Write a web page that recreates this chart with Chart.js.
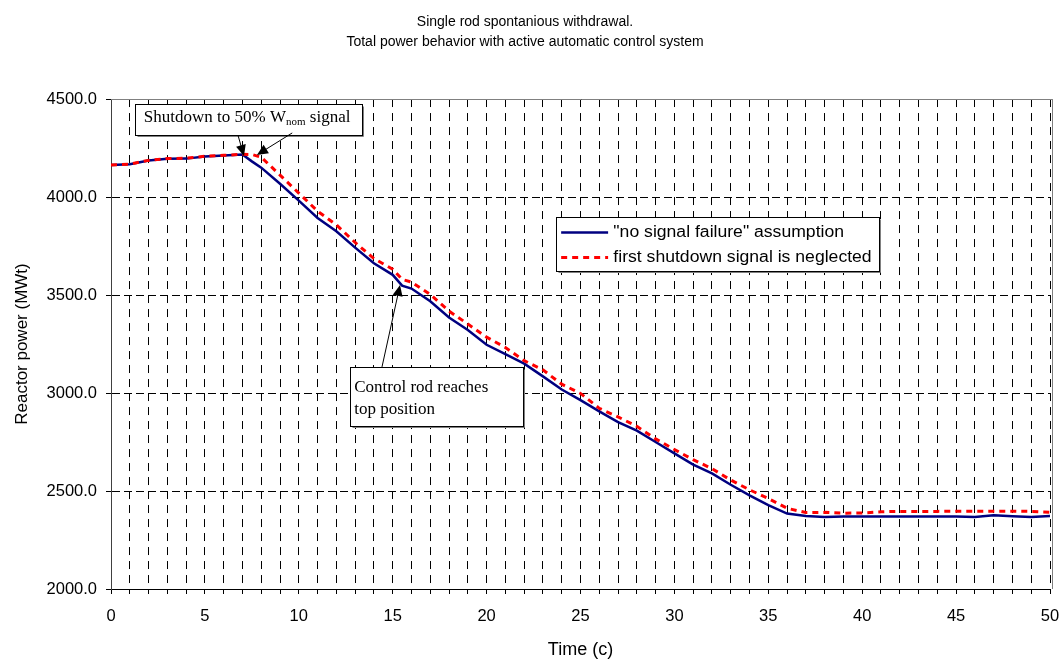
<!DOCTYPE html>
<html><head><meta charset="utf-8">
<script src="https://cdn.jsdelivr.net/npm/chart.js@4.4.0/dist/chart.umd.min.js"></script>
<style>html,body{margin:0;padding:0;background:#fff}</style>
</head><body>
<canvas id="c" width="1063" height="661"></canvas>
<script>
// ---- data ----
const time = [0,1,2,3,4,5,6,7,7.5,8,9,10,11,12,13,14,15,15.5,16,17,18,19,20,21,22,23,24,25,26,27,28,29,30,31,32,33,34,35,36,37,38,39,40,41,42,43,44,45,46,47,48,49,50];
const noFailure = [4163,4167,4186,4195,4196,4207,4212,4217,4182,4150,4068,3982,3893,3825,3742,3662,3603,3548,3533,3468,3385,3322,3246,3198,3150,3085,3018,2964,2906,2852,2808,2750,2692,2635,2590,2532,2478,2428,2385,2372,2368,2370,2370,2370,2370,2370,2370,2370,2367,2376,2371,2367,2372];
const neglected = [4163,4168,4187,4196,4198,4208,4213,4218,4217,4203,4112,4020,3928,3858,3768,3686,3632,3580,3566,3503,3418,3352,3285,3232,3165,3118,3045,2998,2922,2878,2830,2766,2712,2660,2614,2556,2506,2462,2412,2390,2391,2387,2388,2394,2396,2396,2396,2397,2397,2397,2397,2396,2392];
const seriesLabels = ['"no signal failure" assumption', 'first shutdown signal is neglected'];
const titleLines = ['Single rod spontanious withdrawal.', 'Total power behavior with active automatic control system'];
const xTitle = 'Time (c)';
const yTitle = 'Reactor power (MWt)';
const yMin = 2000, yMax = 4500, yStep = 500;
const xMin = 0, xMax = 50, xLabelStep = 5;

// ---- annotation placement (data units) ----
const note1 = {x1:1.28, x2:13.37, y1:4474, y2:4316, textX:1.75, textY:4382};
const arrows = [
  {fromX:6.76, fromY:4316, toX:7.08, toY:4209},
  {fromX:9.65, fromY:4327, toX:7.77, toY:4215},
  {fromX:14.43, fromY:3133, toX:15.39, toY:3551}
];
const note2 = {x1:12.72, x2:21.94, y1:3133, y2:2832, textX:12.95, line1Y:3005, line2Y:2893};
const legendBox = {x1:23.70, x2:40.89, y1:3898, y2:3622, row1Y:3821, row2Y:3694, sampleX1:23.97, sampleX2:26.47, textX:26.75};

const pts = a => a.map((v,i)=>({x:time[i], y:v}));
const SANS = '"Liberation Sans", Arial, sans-serif';
const SERIF = '"Liberation Serif", "Times New Roman", serif';

const overlay = {
  id:'overlay',
  afterDatasetsDraw(chart){
    const {ctx, chartArea:ca, scales:{x,y}} = chart;
    const X = v=>x.getPixelForValue(v), Y = v=>y.getPixelForValue(v);
    ctx.save();
    // frame top & right
    ctx.strokeStyle='#808080'; ctx.lineWidth=1; ctx.setLineDash([]);
    ctx.beginPath();
    ctx.moveTo(ca.left, Math.round(ca.top)+0.5); ctx.lineTo(ca.right+2, Math.round(ca.top)+0.5);
    ctx.moveTo(Math.round(ca.right)+2.5, ca.top); ctx.lineTo(Math.round(ca.right)+2.5, ca.bottom);
    ctx.stroke();

    function box(b){
      const l=Math.round(X(b.x1))+0.5, r=Math.round(X(b.x2))+0.5, t=Math.round(Y(b.y1))+0.5, bt=Math.round(Y(b.y2))+0.5;
      ctx.fillStyle='#fff'; ctx.fillRect(l,t,r-l,bt-t);
      ctx.strokeStyle='#808080'; ctx.lineWidth=1;
      ctx.beginPath(); ctx.moveTo(l+2,bt+1); ctx.lineTo(r+1,bt+1); ctx.lineTo(r+1,t+2); ctx.stroke();
      ctx.strokeStyle='#000'; ctx.strokeRect(l,t,r-l,bt-t);
    }
    function arrow(a){
      const x0=X(a.fromX), y0=Y(a.fromY), x1=X(a.toX), y1=Y(a.toY);
      const ang=Math.atan2(y1-y0,x1-x0), L=11, W=5;
      ctx.strokeStyle='#000'; ctx.lineWidth=1;
      ctx.beginPath(); ctx.moveTo(x0,y0); ctx.lineTo(x1-Math.cos(ang)*L*0.8, y1-Math.sin(ang)*L*0.8); ctx.stroke();
      ctx.fillStyle='#000'; ctx.beginPath();
      ctx.moveTo(x1,y1);
      ctx.lineTo(x1-Math.cos(ang)*L - Math.sin(ang)*W, y1-Math.sin(ang)*L + Math.cos(ang)*W);
      ctx.lineTo(x1-Math.cos(ang)*L + Math.sin(ang)*W, y1-Math.sin(ang)*L - Math.cos(ang)*W);
      ctx.closePath(); ctx.fill();
    }
    // note 1
    box(note1);
    ctx.fillStyle='#000'; ctx.textBaseline='alphabetic'; ctx.textAlign='left';
    let tx=X(note1.textX); const ty=Y(note1.textY);
    ctx.font='17px '+SERIF;
    ctx.fillText('Shutdown to 50% W', tx, ty); tx+=ctx.measureText('Shutdown to 50% W').width;
    ctx.font='11px '+SERIF;
    ctx.fillText('nom', tx, ty+3); tx+=ctx.measureText('nom').width;
    ctx.font='17px '+SERIF;
    ctx.fillText(' signal', tx, ty);
    // note 2
    box(note2);
    ctx.fillStyle='#000';
    ctx.fillText('Control rod reaches', X(note2.textX), Y(note2.line1Y));
    ctx.fillText('top position', X(note2.textX), Y(note2.line2Y));
    arrows.forEach(arrow);
    // legend
    box(legendBox);
    const ds = chart.data.datasets;
    [legendBox.row1Y, legendBox.row2Y].forEach((ry,i)=>{
      const d = ds[i], yy=Math.round(Y(ry))+0.5;
      ctx.strokeStyle=d.borderColor; ctx.lineWidth=d.borderWidth; ctx.setLineDash(d.borderDash||[]);
      ctx.beginPath(); ctx.moveTo(X(legendBox.sampleX1), yy); ctx.lineTo(X(legendBox.sampleX2), yy); ctx.stroke();
      ctx.setLineDash([]);
      ctx.fillStyle='#000'; ctx.font='16px '+SANS; ctx.textBaseline='middle';
      ctx.save(); ctx.translate(X(legendBox.textX), yy); ctx.scale(1.1,1);
      ctx.fillText(d.label, 0, 0);
      ctx.restore();
    });
    ctx.restore();
  }
};

new Chart(document.getElementById('c'), {
  type:'line',
  data:{datasets:[
    {label:seriesLabels[0], data:pts(noFailure), borderColor:'#000080', borderWidth:2.5, pointRadius:0, tension:0, order:2},
    {label:seriesLabels[1], data:pts(neglected), borderColor:'#ff0000', borderWidth:3, borderDash:[6,5], pointRadius:0, tension:0, order:1}
  ]},
  options:{
    responsive:false, animation:false, devicePixelRatio:1,
    layout:{padding:{left:0,right:13,top:0,bottom:0}},
    plugins:{
      legend:{display:false}, tooltip:{enabled:false},
      title:{display:true, text:titleLines, color:'#000', font:{family:SANS, size:14, weight:'normal', lineHeight:1.43}, padding:{top:12,bottom:47}}
    },
    scales:{
      x:{type:'linear', min:xMin, max:xMax,
        afterFit(s){s.height=72; s.paddingRight=12; s.paddingLeft=0;},
        ticks:{stepSize:1, autoSkip:false, maxRotation:0, color:'#000', padding:13,
          font:{family:SANS, size:16.5},
          callback:v=> (v % xLabelStep === 0 ? String(v) : '')},
        grid:{color:'#000', lineWidth:1, tickLength:5, tickColor:'#000', drawOnChartArea:true},
        border:{display:true, color:'#000', width:1, dash:[8,6]},
        title:{display:true, text:xTitle, color:'#000', font:{family:SANS, size:18}, padding:{top:0,bottom:0}}
      },
      y:{type:'linear', min:yMin, max:yMax,
        afterFit(s){s.width=111;},
        ticks:{stepSize:yStep, color:'#000', padding:9,
          font:{family:SANS, size:16.5},
          callback:v=>v.toFixed(1)},
        grid:{color:'#000', lineWidth:1, tickLength:5, tickColor:'#000'},
        border:{display:true, color:'#404040', width:1, dash:[8,4]},
        title:{display:true, text:yTitle, color:'#000', font:{family:SANS, size:17}, padding:{top:12,bottom:0}}
      }
    }
  },
  plugins:[overlay]
});
</script>
</body></html>
